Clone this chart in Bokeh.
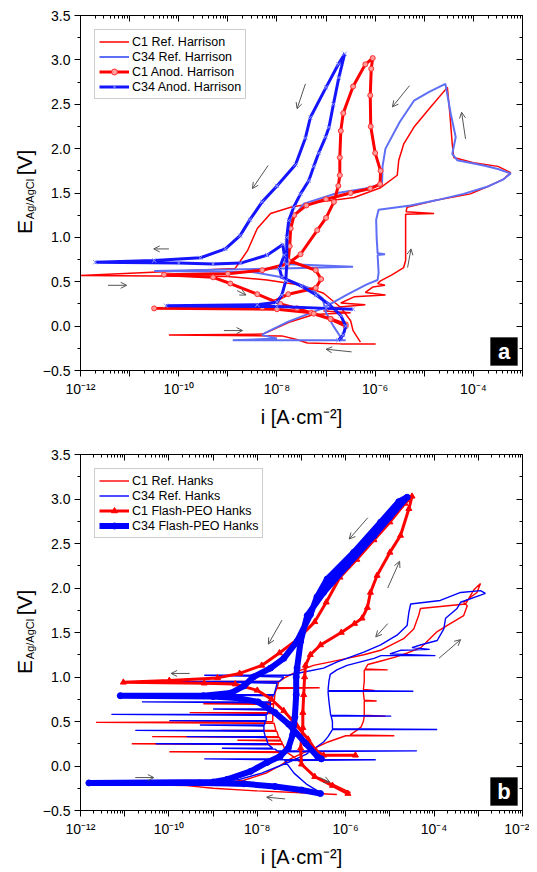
import math
from bokeh.plotting import figure
from bokeh.layouts import column, row
from bokeh.models import (LogAxis, LinearAxis, FixedTicker, SingleIntervalTicker,
                          CustomJSTickFormatter, Range1d, Label, BoxAnnotation,
                          Arrow, OpenHead)
from bokeh.embed import file_html
from bokeh.resources import INLINE

FONT = "Liberation Sans"

# ---------------- data: panel a (Harrison), x = log10(i [A/cm2]), y = E [V] ----------------
c1_ref_harrison_logi = [-5.99, -6.7, -7.38, -7.6, -7.9, -10.2, -8.3, -8.2, -7.72, -7.25, -6.5, -7.05, -6.85, -6.2,
                        -6.7, -6.43, -5.79, -6.2, -6.05, -5.8, -5.95, -5.89, -5.65, -5.42, -5.38, -5.38, -5.38, -4.80,
                        -5.37, -5.35, -4.74, -4.06, -3.72, -3.4, -3.24, -3.5, -4.0, -4.40, -4.43, -4.48, -4.53,
                        -4.87, -5.2, -5.42, -5.52, -5.55, -5.89, -6.43, -7.11, -7.72, -8.13, -8.4, -8.6, -8.85, -12.0,
                        -9.0, -8.2, -7.5, -7.05, -6.7, -6.5, -6.45, -6.3]
c1_ref_harrison_E = [-0.20, -0.20, -0.19, -0.15, -0.11, -0.10, -0.09, -0.07, 0.05, 0.13, 0.15, 0.17, 0.21, 0.24,
                     0.26, 0.33, 0.35, 0.38, 0.44, 0.46, 0.48, 0.51, 0.58, 0.66, 0.74, 1.00, 1.26, 1.27,
                     1.29, 1.34, 1.42, 1.49, 1.57, 1.65, 1.73, 1.80, 1.84, 1.90, 2.05, 2.40, 2.69,
                     2.47, 2.25, 2.05, 1.87, 1.70, 1.56, 1.45, 1.40, 1.34, 1.27, 1.10, 0.85, 0.65, 0.57,
                     0.56, 0.52, 0.46, 0.37, 0.21, 0.06, -0.05, -0.18]

c34_ref_harrison_logi = [-6.6, -7.5, -8.9, -8.0, -8.3, -8.25, -7.77, -7.07, -6.59, -6.17, -5.95, -5.93, -5.95, -5.8,
                         -5.95, -5.97, -5.98, -5.93, -5.28, -4.74, -4.2, -3.72, -3.4, -3.24, -3.5, -3.79, -4.33,
                         -4.43, -4.36, -4.46, -4.57,
                         -4.9, -5.21, -5.5, -5.79, -5.85, -5.86, -6.2, -6.77, -7.45, -7.72, -7.76, -7.85, -6.45,
                         -7.9, -10.5, -8.5, -7.9, -7.3, -7.07, -7.0, -6.85, -6.66]
c34_ref_harrison_E = [-0.16, -0.16, -0.16, -0.14, -0.10, -0.08, 0.05, 0.20, 0.35, 0.47, 0.52, 0.60, 0.80, 0.81,
                      0.82, 1.00, 1.20, 1.31, 1.36, 1.42, 1.49, 1.57, 1.65, 1.72, 1.77, 1.81, 1.87,
                      1.94, 2.13, 2.39, 2.73,
                      2.64, 2.54, 2.30, 2.00, 1.80, 1.60, 1.55, 1.50, 1.38, 1.19, 0.89, 0.70, 0.67,
                      0.65, 0.62, 0.61, 0.55, 0.42, 0.31, 0.15, 0.00, -0.16]

c1_anod_harrison_logi = [-6.6, -6.9, -7.3, -8.0, -10.5, -8.3, -7.77, -7.21, -7.1, -7.21, -7.77, -7.74, -7.72, -7.65,
                         -7.4, -7.0, -6.5, -6.1, -5.9, -5.89, -6.0, -6.09, -6.1, -6.08, -6.05,
                         -6.2, -6.45, -6.65, -6.7, -6.72, -6.72, -6.75, -6.84, -7.0, -7.18, -7.52, -7.79, -8.3,
                         -9.0, -10.3, -9.3, -8.95, -8.4, -7.93, -7.59, -7.25, -6.91, -6.6]
c1_anod_harrison_E = [0.02, 0.08, 0.15, 0.19, 0.20, 0.21, 0.36, 0.43, 0.53, 0.63, 0.74, 0.90, 1.10, 1.25,
                      1.36, 1.43, 1.50, 1.55, 1.60, 1.75, 1.95, 2.25, 2.60, 2.90, 3.02,
                      2.95, 2.70, 2.40, 2.20, 1.90, 1.70, 1.58, 1.40, 1.22, 1.08, 0.81, 0.70, 0.63,
                      0.59, 0.58, 0.55, 0.48, 0.36, 0.25, 0.20, 0.14, 0.08, 0.00]

c34_anod_harrison_logi = [-6.45, -7.0, -8.0, -10.26, -8.4, -8.0, -7.9, -7.82, -7.8, -7.8, -7.76, -7.66, -7.52,
                          -7.35, -7.25, -7.15, -7.01, -6.94, -6.85, -6.74, -6.62,
                          -6.75, -7.0, -7.32, -7.42, -7.62, -8.0, -8.3, -8.55, -8.75, -9.05, -9.56, -10.5, -11.7,
                          -10.0, -9.3, -8.74, -8.2, -7.88, -7.85, -7.95, -7.9, -7.5, -7.2, -6.95, -6.7, -6.6,
                          -6.65, -6.75]
c34_anod_harrison_E = [0.19, 0.20, 0.22, 0.23, 0.24, 0.27, 0.35, 0.51, 0.70, 1.00, 1.19, 1.34, 1.49,
                       1.64, 1.80, 1.95, 2.13, 2.24, 2.50, 2.80, 3.07,
                       2.95, 2.69, 2.35, 2.12, 1.82, 1.58, 1.40, 1.20, 1.02, 0.87, 0.77, 0.74, 0.72,
                       0.71, 0.70, 0.71, 0.80, 0.92, 0.80, 0.65, 0.55, 0.45, 0.35, 0.25, 0.12, 0.00,
                       -0.10, -0.16]

# ---------------- data: panel b (Hanks) ----------------
c1_ref_hanks_logi = [-6.2, -7.0, -8.0, -9.0, -9.6, -10.6, -9.0, -8.3, -7.8, -7.5, -7.25, -7.0, -6.7, -6.4, -6.0,
                     -4.9, -5.9, -5.75, -5.65, -5.6, -5.58, -5.1, -5.58, -5.58, -5.58, -5.3, -5.58, -5.6, -5.6,
                     -5.35, -5.6, -5.58, -5.58, -5.58, -5.05, -5.56, -5.5, -5.2, -4.9, -4.6, -4.3, -4.16, -3.93,
                     -3.70, -3.33, -3.25, -3.33, -3.03, -2.95,
                     -3.1, -3.29, -4.31, -4.35, -4.46, -4.69, -5.21, -5.59, -5.97, -6.34, -6.73, -7.1, -7.35,
                     -7.5, -9.3, -7.52, -7.55, -6.59, -7.56, -7.6, -7.62, -9.22, -7.63, -7.65, -9.53, -7.65,
                     -7.65, -11.65, -7.62, -7.58, -8.83, -7.56, -7.52, -10.38, -7.5, -7.47, -8.45, -7.46, -7.43,
                     -10.84, -7.42, -7.35, -9.99, -7.32, -7.17, -7.02, -6.72, -6.27, -5.89]
c1_ref_hanks_E = [-0.32, -0.30, -0.28, -0.25, -0.22, -0.21, -0.20, -0.16, -0.08, 0.00, 0.08, 0.14, 0.20, 0.27, 0.34,
                  0.34, 0.35, 0.40, 0.44, 0.50, 0.56, 0.56, 0.57, 0.65, 0.73, 0.73, 0.74, 0.82, 0.85,
                  0.85, 0.86, 0.95, 1.05, 1.08, 1.08, 1.09, 1.14, 1.18, 1.22, 1.27, 1.33, 1.40, 1.51,
                  1.58, 1.69, 1.80, 1.84, 1.95, 2.05,
                  1.98, 1.82, 1.77, 1.69, 1.54, 1.43, 1.30, 1.25, 1.21, 1.17, 1.13, 1.06, 1.00,
                  0.95, 0.95, 0.94, 0.88, 0.88, 0.87, 0.82, 0.70, 0.70, 0.69, 0.60, 0.60, 0.59,
                  0.50, 0.49, 0.48, 0.40, 0.40, 0.39, 0.33, 0.33, 0.32, 0.29, 0.29, 0.28, 0.25,
                  0.25, 0.24, 0.16, 0.16, 0.15, 0.10, 0.04, -0.11, -0.21, -0.30]

c34_ref_hanks_logi = [-6.6, -7.2, -7.9, -9.0, -11.0, -9.0, -8.4, -7.9, -7.5, -7.2, -6.9, -6.7, -6.5, -6.4, -6.3,
                      -3.93, -6.3, -6.3, -6.33, -4.97, -6.34, -6.38, -6.4, -4.47, -6.4, -6.38, -6.35, -6.2, -5.97,
                      -5.36, -5.2, -3.97, -5.0, -4.76, -4.1, -4.5, -4.31, -3.93, -3.78, -3.74, -3.48, -3.40,
                      -2.95, -2.84, -2.95, -3.40, -3.86,
                      -4.53, -4.57, -4.61, -4.84, -5.21, -5.59, -6.19, -6.5, -7.0, -7.3, -9.2, -7.4, -7.5,
                      -9.9, -7.55, -7.62, -9.5, -7.64, -7.7, -10.61, -7.7, -7.72, -9.0, -7.74, -7.78, -11.3,
                      -7.8, -7.8, -9.99, -7.82, -7.84, -9.3, -7.85, -7.85, -10.76, -7.85, -7.82, -9.6, -7.8,
                      -7.76, -10.3, -7.75, -7.65, -8.8, -7.6, -7.55, -4.39, -7.5, -7.48, -7.45, -9.2, -7.42,
                      -5.32, -7.38, -7.17, -6.87, -6.57]
c34_ref_hanks_E = [-0.32, -0.27, -0.23, -0.21, -0.20, -0.19, -0.15, -0.08, 0.00, 0.06, 0.13, 0.20, 0.27, 0.33, 0.41,
                   0.41, 0.42, 0.50, 0.56, 0.56, 0.57, 0.73, 0.84, 0.84, 0.85, 0.95, 1.03, 1.08, 1.13,
                   1.21, 1.24, 1.24, 1.26, 1.30, 1.31, 1.33, 1.36, 1.41, 1.54, 1.66, 1.77, 1.84,
                   1.92, 1.94, 1.97, 1.95, 1.86,
                   1.82, 1.73, 1.58, 1.47, 1.36, 1.28, 1.17, 1.10, 1.05, 1.02, 1.02, 1.00, 0.95,
                   0.95, 0.93, 0.80, 0.80, 0.79, 0.72, 0.72, 0.71, 0.64, 0.64, 0.63, 0.58, 0.58,
                   0.57, 0.51, 0.51, 0.50, 0.46, 0.46, 0.45, 0.40, 0.40, 0.39, 0.33, 0.33, 0.32,
                   0.25, 0.25, 0.24, 0.20, 0.20, 0.19, 0.17, 0.17, 0.16, 0.13, 0.08, 0.08, 0.07,
                   0.07, 0.06, -0.08, -0.21, -0.30]

c1_flash_hanks_logi = [-5.95, -6.3, -6.7, -7.0, -7.02, -6.97, -6.97, -6.95, -6.93, -6.91, -6.80, -6.57, -6.1, -5.8,
                       -5.63, -5.51, -5.44, -5.29, -5.0, -4.76, -4.57, -4.50,
                       -4.66, -5.0, -5.36, -5.75, -6.13, -6.44, -6.7, -7.1, -7.5, -7.9, -8.4, -8.9, -9.99, -11.03,
                       -9.2, -8.5, -8.0, -7.68, -7.4, -7.1, -6.85, -6.67, -6.5, -5.78]
c1_flash_hanks_E = [-0.31, -0.22, -0.12, 0.02, 0.20, 0.43, 0.60, 0.80, 1.00, 1.13, 1.25, 1.36, 1.50, 1.60,
                    1.66, 1.78, 1.95, 2.14, 2.40, 2.59, 2.89, 3.03,
                    2.95, 2.74, 2.54, 2.32, 2.12, 1.84, 1.62, 1.42, 1.27, 1.13, 1.04, 0.99, 0.96, 0.94,
                    0.93, 0.92, 0.85, 0.75, 0.62, 0.45, 0.30, 0.17, 0.12, 0.12]

c34_flash_hanks_logi = [-6.57, -7.0, -7.6, -8.3, -9.3, -11.81, -9.0, -8.68, -8.15, -7.78, -7.48, -7.3, -7.2, -7.15,
                        -7.12, -7.12, -7.10, -7.02, -6.87, -6.5, -5.97, -5.36, -5.0, -4.61,
                        -4.8, -5.21, -5.82, -6.42, -6.65, -6.80, -7.10, -7.40, -7.70, -8.09, -8.3, -8.6, -9.22,
                        -11.1, -9.0, -8.4, -7.98, -7.6, -7.29, -6.9, -6.63, -6.55]
c34_flash_hanks_E = [-0.31, -0.27, -0.23, -0.20, -0.19, -0.19, -0.18, -0.15, -0.06, 0.04, 0.11, 0.20, 0.35, 0.55,
                     0.80, 1.00, 1.10, 1.40, 1.69, 1.95, 2.25, 2.59, 2.80, 3.02,
                     2.97, 2.74, 2.40, 2.10, 1.90, 1.70, 1.40, 1.21, 1.10, 1.00, 0.90, 0.82, 0.79,
                     0.79, 0.78, 0.76, 0.72, 0.60, 0.47, 0.25, 0.10, 0.08]

# sweep-direction arrows: (log i start, E start, log i end, E end)
arrows_harrison = [(-10.2, 0.87, -10.51, 0.87), (-11.44, 0.46, -11.06, 0.46), (-8.81, 0.40, -8.63, 0.35),
                   (-9.08, -0.05, -8.70, -0.05), (-6.48, -0.29, -7.0, -0.26), (-8.18, 1.81, -8.5, 1.55),
                   (-7.42, 2.73, -7.59, 2.45), (-5.3, 2.71, -5.65, 2.47), (-4.16, 2.11, -4.24, 2.41),
                   (-5.34, 0.66, -5.27, 0.87)]
arrows_hanks = [(-9.53, 1.04, -9.95, 1.04), (-10.76, -0.13, -10.34, -0.13), (-7.37, -0.37, -7.79, -0.35),
                (-6.59, -0.13, -6.36, -0.18), (-7.44, 1.64, -7.75, 1.37), (-5.50, 2.79, -5.92, 2.55),
                (-5.05, 2.00, -4.78, 2.30), (-5.05, 1.60, -5.32, 1.45), (-3.89, 1.21, -3.40, 1.42)]

legend_harrison = ["C1 Ref. Harrison", "C34 Ref. Harrison", "C1 Anod. Harrison", "C34 Anod. Harrison"]
legend_hanks = ["C1 Ref. Hanks", "C34 Ref. Hanks", "C1 Flash-PEO Hanks", "C34 Flash-PEO Hanks"]

X_FMT_CODE = """
const e = Math.round(Math.log10(tick));
if (e % 2 !== 0) { return " "; }
const sup = {"-": "\\u207b", "0": "\\u2070", "1": "\\u00b9", "2": "\\u00b2", "3": "\\u00b3",
             "4": "\\u2074", "5": "\\u2075", "6": "\\u2076", "7": "\\u2077", "8": "\\u2078", "9": "\\u2079"};
return "10" + String(e).split("").map(c => sup[c]).join("");
"""
Y_FMT_CODE = """
const s = Math.abs(tick).toFixed(1);
return tick < -1e-9 ? "\\u2212" + s : s;
"""
BLANK_FMT_CODE = 'return " ";'

LABEL_W = 38       # width of the strip that carries the y-axis title
MAIN_W = 491       # plot figure width (frame 442 px)


def to_i(logs):
    return [10.0 ** v for v in logs]


def style_axis(ax, inward):
    ax.axis_line_color = "black"
    ax.axis_line_width = 1
    ax.major_tick_line_color = "black"
    ax.minor_tick_line_color = "black"
    if inward:
        ax.major_tick_in, ax.major_tick_out = 6, 0
        ax.minor_tick_in, ax.minor_tick_out = 3, 0
        ax.major_label_text_font_size = "2px"
        ax.major_label_text_alpha = 0.0
        ax.major_label_standoff = 0
        ax.formatter = CustomJSTickFormatter(code=BLANK_FMT_CODE)
    else:
        ax.major_tick_in, ax.major_tick_out = 0, 6
        ax.minor_tick_in, ax.minor_tick_out = 0, 3
        ax.major_label_text_font = FONT
        ax.major_label_text_font_size = "14px"
        ax.major_label_text_color = "black"
        ax.major_label_standoff = 4


def make_title_strip(height):
    # the strip's frame is aligned by the row layout to the plot frame beside it;
    # label positions are given in screen px from that frame's bottom-left corner
    f = figure(width=LABEL_W, height=height, x_range=Range1d(0, LABEL_W), y_range=Range1d(0, 1),
               min_border=0, toolbar_location=None, output_backend="svg",
               x_axis_location=None, y_axis_location=None, outline_line_color=None,
               background_fill_color="white", border_fill_color="white")
    f.grid.visible = False
    common = dict(angle=math.pi / 2, text_font=FONT, text_color="black",
                  text_align="center", text_baseline="middle",
                  x_units="screen", y_units="screen")
    f.add_layout(Label(x=23.5, y=143.5, text="E", text_font_size="21px", **common))
    f.add_layout(Label(x=29.0, y=171.5, text="Ag/AgCl", text_font_size="11px", **common))
    f.add_layout(Label(x=23.5, y=208.0, text="[V]", text_font_size="21px", **common))
    return f


def make_panel(height, top_border, bottom_border, x_hi_exp, tag):
    p = figure(width=MAIN_W, height=height, x_axis_type="log",
               x_range=Range1d(1e-12, 10.0 ** x_hi_exp), y_range=Range1d(-0.5, 3.5),
               output_backend="svg", toolbar_location=None,
               min_border_left=80 - LABEL_W, min_border_right=7,
               min_border_top=top_border, min_border_bottom=bottom_border,
               background_fill_color="white", border_fill_color="white",
               outline_line_color="black", outline_line_width=1)
    p.grid.visible = False
    major = [10.0 ** k for k in range(-12, x_hi_exp + 1)]
    minor = [m * 10.0 ** k for k in range(-12, x_hi_exp) for m in range(2, 10)]
    xt = FixedTicker(ticks=major, minor_ticks=minor)
    yt = SingleIntervalTicker(interval=0.5, num_minor_ticks=2)
    xa = p.xaxis[0]
    ya = p.yaxis[0]
    xa.ticker = xt
    xa.formatter = CustomJSTickFormatter(code=X_FMT_CODE)
    ya.ticker = yt
    ya.formatter = CustomJSTickFormatter(code=Y_FMT_CODE)
    style_axis(xa, False)
    style_axis(ya, False)
    xa.axis_label = "i [A\u00b7cm\u207b\u00b2]"
    xa.axis_label_text_font = FONT
    xa.axis_label_text_font_size = "20px"
    xa.axis_label_text_font_style = "normal"
    xa.axis_label_text_color = "black"
    xa.axis_label_standoff = 6

    top = LogAxis(ticker=xt)
    style_axis(top, True)
    p.add_layout(top, "above")
    right = LinearAxis(ticker=yt)
    style_axis(right, True)
    p.add_layout(right, "right")

    # panel tag
    p.add_layout(BoxAnnotation(left=410, right=437, bottom=5, top=33,
                               left_units="screen", right_units="screen",
                               top_units="screen", bottom_units="screen",
                               fill_color="black", fill_alpha=1.0, line_color="black"))
    p.add_layout(Label(x=423.5, y=19, x_units="screen", y_units="screen", text=tag,
                       text_align="center", text_baseline="middle", text_color="white",
                       text_font=FONT, text_font_style="bold", text_font_size="22px"))
    return p


def add_arrows(p, arrows):
    for (l0, e0, l1, e1) in arrows:
        p.add_layout(Arrow(end=OpenHead(size=6, line_color="#555555", line_width=1),
                           x_start=10.0 ** l0, y_start=e0, x_end=10.0 ** l1, y_end=e1,
                           line_color="#555555", line_width=1))


def style_legend(p):
    lg = p.legend[0]
    lg.location = "top_left"
    lg.margin = 14
    lg.padding = 4
    lg.spacing = 0
    lg.label_text_font = FONT
    lg.label_text_font_size = "12.5px"
    lg.label_text_color = "black"
    lg.label_height = 15
    lg.glyph_height = 15
    lg.glyph_width = 30
    lg.label_standoff = 3
    lg.border_line_color = "#999999"
    lg.border_line_width = 1
    lg.background_fill_alpha = 1.0


# ---------------- panel a ----------------
HA = 440
pa = make_panel(HA, 15, 70, -3, "a")
pa.line(to_i(c1_ref_harrison_logi), c1_ref_harrison_E, color="#ff0000", line_width=1.5,
        legend_label=legend_harrison[0])
pa.line(to_i(c34_ref_harrison_logi), c34_ref_harrison_E, color="#5f6ff5", line_width=2,
        legend_label=legend_harrison[1])
pa.line(to_i(c1_anod_harrison_logi), c1_anod_harrison_E, color="#ff0000", line_width=3,
        legend_label=legend_harrison[2])
pa.scatter(to_i(c1_anod_harrison_logi), c1_anod_harrison_E, marker="circle", size=5,
           fill_color="#ff9d9d", line_color="#ff3030", line_width=1, legend_label=legend_harrison[2])
pa.line(to_i(c34_anod_harrison_logi), c34_anod_harrison_E, color="#1414ff", line_width=3,
        legend_label=legend_harrison[3])
pa.scatter(to_i(c34_anod_harrison_logi), c34_anod_harrison_E, marker="x", size=6,
           line_color="#8a94ff", line_width=1, legend_label=legend_harrison[3])
add_arrows(pa, arrows_harrison)
style_legend(pa)
ta = make_title_strip(HA)

# ---------------- panel b ----------------
HB = 430
pb = make_panel(HB, 14, 60, -2, "b")
pb.line(to_i(c1_ref_hanks_logi), c1_ref_hanks_E, color="#ff0000", line_width=1.4,
        legend_label=legend_hanks[0])
pb.line(to_i(c34_ref_hanks_logi), c34_ref_hanks_E, color="#0000ff", line_width=1.4,
        legend_label=legend_hanks[1])
pb.line(to_i(c1_flash_hanks_logi), c1_flash_hanks_E, color="#ff0000", line_width=3,
        legend_label=legend_hanks[2])
pb.scatter(to_i(c1_flash_hanks_logi), c1_flash_hanks_E, marker="triangle", size=6,
           fill_color="#ff0000", line_color="#ff0000", legend_label=legend_hanks[2])
pb.line(to_i(c34_flash_hanks_logi), c34_flash_hanks_E, color="#0000ff", line_width=6,
        legend_label=legend_hanks[3])
pb.scatter(to_i(c34_flash_hanks_logi), c34_flash_hanks_E, marker="circle", size=6,
           fill_color="#0000ff", line_color="#0000ff", legend_label=legend_hanks[3])
add_arrows(pb, arrows_hanks)
style_legend(pb)
tb = make_title_strip(HB)

layout = column(row(ta, pa), row(tb, pb))
open("out.html", "w").write(file_html(layout, INLINE))
